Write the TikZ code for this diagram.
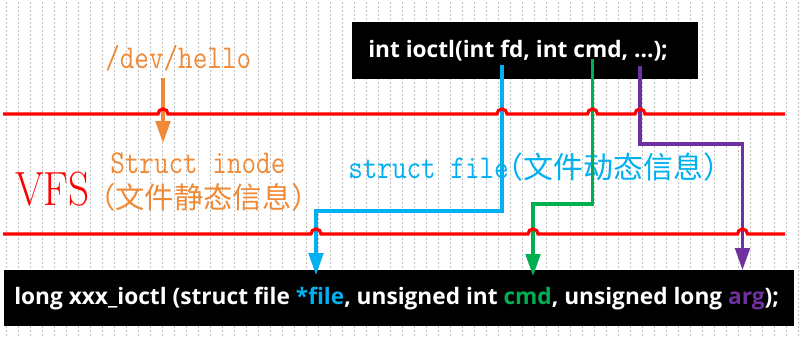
\documentclass[tikz,border=0pt]{standalone}
\usepackage{fontspec}
\newfontfamily\cjk{Noto Sans CJK SC}
\newfontfamily\codefont{Open Sans}
\usetikzlibrary{arrows.meta}
\definecolor{Hop}{HTML}{FF0000}
\definecolor{Orng}{HTML}{F08A36}
\definecolor{Cyn}{HTML}{00B0F0}
\definecolor{Grn}{HTML}{00B050}
\definecolor{Prp}{HTML}{7030A0}
\newcommand\narrow[1]{\scalebox{0.85}[1]{#1}}
\begin{document}
\begin{tikzpicture}[x=0.75pt,y=-0.75pt,>=Latex,
    gridln/.style={draw=black!25,line width=0.6pt,dash pattern=on 1.5pt off 1.5pt},
    hopln/.style={draw=Hop,line width=2.4pt},
    codebox/.style={fill=black,text=white,inner sep=0pt,anchor=north west,
      font=\codefont\bfseries\fontsize{17pt}{20pt}\selectfont},
    monotxt/.style={inner sep=0pt,anchor=base west,font=\ttfamily\fontsize{25pt}{28pt}\selectfont},
    cjktxt/.style={inner sep=0pt,anchor=base west,font=\cjk\fontsize{22pt}{26pt}\selectfont},
    wire/.style={line width=2.3pt},
    headarr/.style={-{Triangle[length=16.5pt,width=11pt]}}]
  \useasboundingbox (0,0) rectangle (803,336);
  % background grid
  \draw[gridln,shift={(6,6)}] (-6,-6) grid[step=12] (797,330);

  % prototypes
  \node[codebox,minimum width=259.5pt,minimum height=42.75pt] (proto) at (352,22)
    {\hspace{12pt}\makebox[247.5pt][l]{int ioctl(int fd, int cmd, ...);}};
  \node[codebox,minimum width=592.5pt,minimum height=42pt] (drvproto) at (4,270)
    {\hspace{7.5pt}\makebox[585pt][l]{long xxx\_ioctl (struct file \textcolor{Cyn}{*file}, unsigned int \textcolor{Grn}{cmd}, unsigned long \textcolor{Prp}{arg});}};

  % labels
  \node[monotxt,text=Orng] (devname) at (105,68) {\narrow{/dev/hello}};
  \node[monotxt,text=Orng] (inode) at (110,173) {\narrow{Struct inode}};
  \node[cjktxt,text=Orng] (inodeinfo) at (86,208) {（文件静态信息）};
  \node[inner sep=0pt,anchor=base west,text=Hop,font=\fontsize{36pt}{40pt}\selectfont] (vfs) at (15,205)
    {\scalebox{0.86}[1]{VFS}};
  \node[inner sep=0pt,anchor=base west,text=Cyn] (fileinfo) at (348,178)
    {\ttfamily\fontsize{25pt}{28pt}\selectfont\narrow{struct file}\cjk\fontsize{22.5pt}{26pt}\selectfont\kern-0.5em（文件动态信息）};

  % wire ends
  \coordinate (devfoot) at (163,78);
  \coordinate (inodetop) at (163,143);
  \coordinate (fd) at (502,65);
  \coordinate (cmd) at (592.5,59);
  \coordinate (dots) at (640,66);
  \coordinate (fdbend) at (316,211);
  \coordinate (cmdbend) at (533,204);
  \coordinate (dotsbend) at (742.5,144);
  \coordinate (filein) at (316,275);
  \coordinate (cmdin) at (533,276);
  \coordinate (argin) at (742.5,270);

  \draw[wire,Orng,line width=2.6pt,headarr] (devfoot) -- (inodetop);
  \draw[wire,Cyn,headarr] (fd) |- (fdbend) -- (filein);
  \draw[wire,Grn,headarr] (cmd) |- (cmdbend) -- (cmdin);
  \draw[wire,Prp,headarr] (dots) |- (dotsbend) -- (argin);

  % VFS layer boundaries
  \draw[hopln] (3,114) foreach \h in {163,502,592.5,640} {
      -- (\h-5,114) arc[start angle=180,end angle=360,radius=5] } -- (785,114);
  \draw[hopln] (3,234) foreach \h in {316,533,742.5} {
      -- (\h-5,234) arc[start angle=180,end angle=360,radius=5] } -- (785,234);
\end{tikzpicture}
\end{document}
